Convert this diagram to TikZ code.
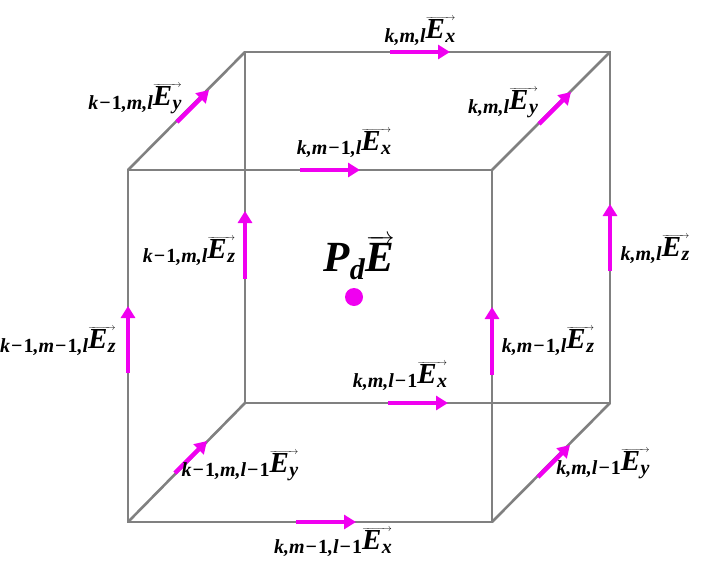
\documentclass[tikz,border=0pt]{standalone}
\usepackage{fontspec}
\setmainfont{Liberation Serif}
\usetikzlibrary{arrows.meta}
\definecolor{edgegray}{RGB}{128,128,128}
\definecolor{fieldmag}{RGB}{240,0,240}
\newcommand{\mn}{\kern1pt\textup{−}\kern1pt}
\newcommand{\one}{\textup{1}}
\newcommand{\elab}[2]{{\fontsize{20}{20}\selectfont\bfseries\itshape #1}\raisebox{3.5pt}{$\overrightarrow{\hbox{\fontsize{29}{29}\selectfont\bfseries\itshape E\kern0.5pt\raisebox{-4pt}{\fontsize{20}{20}\selectfont #2}}}$}}
\tikzset{
  edge/.style={draw=edgegray, line width=2.6pt},
  field/.style={draw=fieldmag, line width=4.5pt, -{Triangle[length=12pt,width=14pt]}},
  lbl/.style={inner sep=0pt, text=black}
}
\begin{document}
\begin{tikzpicture}[x=1pt,y=-1pt]
\useasboundingbox (0,0) rectangle (707,565);
% corners
\coordinate (F1) at (128,170); \coordinate (F2) at (492,170);
\coordinate (F3) at (492,522); \coordinate (F4) at (128,522);
\coordinate (B1) at (245,52);  \coordinate (B2) at (610,52);
\coordinate (B3) at (610,403); \coordinate (B4) at (245,403);
% edges
\draw[edge] (B1) -- (B2) -- (B3) -- (B4) -- cycle;
\draw[edge] (F1) -- (F2) -- (F3) -- (F4) -- cycle;
\draw[edge] (F1) -- (B1);
\draw[edge] (F2) -- (B2);
\draw[edge] (F3) -- (B3);
\draw[edge] (F4) -- (B4);
% field arrows
\coordinate (a1s) at (390,52);  \coordinate (a1e) at (450,52);
\coordinate (a2s) at (300,170); \coordinate (a2e) at (360,170);
\coordinate (a3s) at (388,403); \coordinate (a3e) at (448,403);
\coordinate (a4s) at (296,522); \coordinate (a4e) at (356,522);
\coordinate (a5s) at (245,279); \coordinate (a5e) at (245,211);
\coordinate (a6s) at (128,373); \coordinate (a6e) at (128,306);
\coordinate (a7s) at (492,375); \coordinate (a7e) at (492,307);
\coordinate (a8s) at (610,271); \coordinate (a8e) at (610,204);
\coordinate (a9s) at (177,122); \coordinate (a9e) at (209,90);
\coordinate (a10s) at (539,124); \coordinate (a10e) at (571,92);
\coordinate (a11s) at (175,473); \coordinate (a11e) at (207,441);
\coordinate (a12s) at (538,477); \coordinate (a12e) at (570,445);
\foreach \i in {1,...,12}{\draw[field] (a\i s) -- (a\i e);}
% centre point
\fill[fieldmag] (354,297) circle (9);
\node[lbl] (pd) at (359,258) {\fontsize{43}{43}\selectfont\bfseries\itshape P\raisebox{-8pt}{\fontsize{30}{30}\selectfont d}\kern1pt$\overrightarrow{\hbox{\fontsize{43}{43}\selectfont\bfseries\itshape E}}$};
% labels
\node[lbl] (l1) at (420,31) {\elab{k,m,l}{x}};
\node[lbl] (l2) at (135,99) {\elab{k\mn\one,m,l}{y}};
\node[lbl] (l3) at (344,143) {\elab{k,m\mn\one,l}{x}};
\node[lbl] (l4) at (503,103) {\elab{k,m,l}{y}};
\node[lbl] (l5) at (189,251) {\elab{k\mn\one,m,l}{z}};
\node[lbl] (l6) at (655,249) {\elab{k,m,l}{z}};
\node[lbl] (l7) at (58,341) {\elab{k\mn\one,m\mn\one,l}{z}};
\node[lbl] (l8) at (548,341) {\elab{k,m\mn\one,l}{z}};
\node[lbl] (l9) at (400,376) {\elab{k,m,l\mn\one}{x}};
\node[lbl] (l10) at (240,466) {\elab{k\mn\one,m,l\mn\one}{y}};
\node[lbl] (l11) at (603,464) {\elab{k,m,l\mn\one}{y}};
\node[lbl] (l12) at (333,542) {\elab{k,m\mn\one,l\mn\one}{x}};
\end{tikzpicture}
\end{document}
